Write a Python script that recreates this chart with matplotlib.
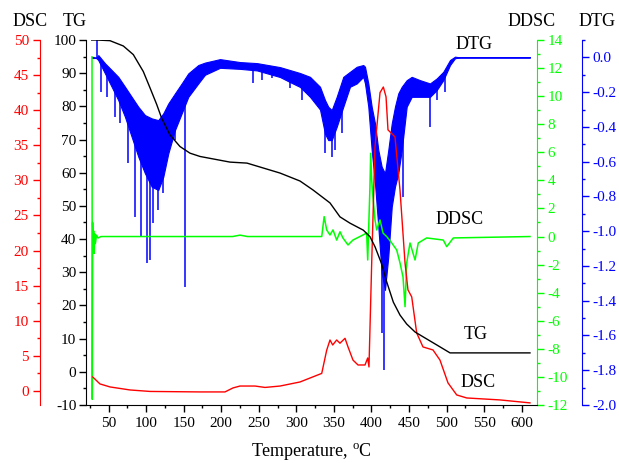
import matplotlib
matplotlib.use('Agg')
import matplotlib.pyplot as plt
import numpy as np
from matplotlib.ticker import MultipleLocator, FormatStrFormatter

plt.rcParams['font.family'] = 'Liberation Serif'
plt.rcParams['mathtext.fontset'] = 'custom'
plt.rcParams['mathtext.rm'] = 'Liberation Serif'
plt.rcParams['axes.unicode_minus'] = False

# TG curve (%)
temp_tg = [27.6, 34.2, 51.9, 69.7, 83.0, 96.3, 105.2, 114.1, 120.8, 131.8, 145.1, 158.4, 171.8,
           211.7, 234.3, 278.3, 304.9, 322.2, 344.8, 358.1, 371.4, 389.1, 398.1, 404.7,
           413.6, 420.3, 429.1, 438.0, 446.9, 458.0, 471.3, 486.9, 504.6, 611.0]
tg = [100.0, 100.0, 99.8, 98.2, 95.6, 90.5, 85.6, 80.6, 76.4, 71.4, 67.9, 65.9, 64.9,
      63.2, 62.9, 59.9, 57.5, 54.8, 50.9, 46.7, 44.8, 42.7, 40.7, 37.7,
      32.5, 27.1, 21.0, 17.1, 14.4, 12.0, 10.2, 8.1, 5.7, 5.7]

# DSC curve
temp_dsc = [28.9, 38.6, 52.0, 78.6, 105.2, 171.8, 205.0, 215.7, 225.0, 245.0, 258.3, 278.3,
            304.9, 333.8, 340.4, 344.8, 348.4, 353.7, 358.1, 364.8, 368.8, 375.4, 382.1,
            391.4, 395.0, 396.7, 400.3, 404.7, 411.4, 415.8, 419.4, 422.0, 431.3, 438.0,
            444.7, 448.6, 453.6, 460.2, 468.6, 481.9, 491.2, 501.9, 513.5, 526.8, 571.1, 611.0]
dsc = [2.0, 1.0, 0.57, 0.14, -0.07, -0.14, -0.14, 0.43, 0.7, 0.7, 0.5, 0.7,
       1.28, 2.5, 5.8, 7.26, 6.55, 7.26, 6.8, 7.5, 6.27, 4.4, 3.7,
       3.7, 4.7, 3.42, 18.2, 34.8, 42.5, 43.3, 41.9, 37.2, 36.2, 28.6,
       18.2, 14.4, 13.4, 8.26, 6.27, 5.84, 4.4, 1.14, -0.57, -1.0, -1.28, -1.7]

# DDSC curve
temp_ddsc = [28.0, 28.4, 28.9, 29.5, 30.2, 31.0, 31.6, 32.5, 34.0, 36.0, 40.0, 215.0, 225.0,
             235.0, 333.8, 337.0, 340.4, 344.8, 348.8, 353.7, 358.1, 362.1, 368.8, 375.4,
             388.7, 393.6, 395.0, 398.0, 399.0, 400.3, 402.0, 404.7, 407.0, 411.4, 415.4,
             420.3, 427.0, 433.6, 438.0, 442.0, 444.7, 446.9, 451.3, 458.0, 462.3, 473.5,
             495.6, 500.2, 509.0, 611.0]
ddsc = [12.8, -11.6, 1.0, -1.0, 0.4, -1.2, 0.2, -0.5, 0.1, -0.1, 0.0, 0.0, 0.1,
        0.0, 0.0, 1.42, 0.47, 0.11, 0.47, -0.25, 0.34, -0.11, -0.6, -0.25,
        0.11, 0.25, -1.67, 3.55, 5.93, 4.03, 2.82, 1.18, 0.47, 1.18, 0.25,
        0.0, -0.46, -0.96, -1.88, -2.88, -5.0, -1.88, -0.46, -1.67, -0.46, -0.1,
        -0.25, -0.72, -0.1, 0.0]

# DTG noisy band: upper / lower edge of the trace
temp_dtg = [27.6, 34.2, 36.4, 45.3, 54.2, 63.0, 71.9, 80.8, 89.6, 98.5, 107.5, 116.2,
            122.9, 129.6, 138.5, 147.4, 156.2, 169.5, 178.4, 198.4, 225.0, 247.6, 278.3,
            291.6, 304.9, 318.2, 331.5, 338.2, 342.5, 347.1, 353.7, 362.5, 371.4, 380.4,
            389.1, 391.4, 395.8, 400.3, 404.7, 409.1, 413.6, 418.0, 422.4, 427.0, 431.3,
            435.7, 440.3, 446.9, 453.6, 464.6, 477.9, 486.9, 495.6, 504.6, 511.2, 517.9, 611.0]
dtg_upper = [0.0, 0.0, 0.013, -0.034, -0.073, -0.112, -0.169, -0.227, -0.284, -0.332, -0.351, -0.361,
             -0.322, -0.265, -0.207, -0.150, -0.092, -0.044, -0.030, -0.010, -0.027, -0.033, -0.056,
             -0.073, -0.090, -0.112, -0.169, -0.246, -0.284, -0.303, -0.227, -0.112, -0.083, -0.054,
             -0.044, -0.054, -0.150, -0.284, -0.380, -0.533, -0.629, -0.667, -0.533, -0.380, -0.284,
             -0.207, -0.169, -0.131, -0.112, -0.131, -0.150, -0.121, -0.083, -0.015, 0.004, 0.0, 0.0]
dtg_lower = [0.0, -0.005, -0.016, -0.092, -0.169, -0.246, -0.342, -0.457, -0.571, -0.667, -0.744, -0.763,
             -0.687, -0.552, -0.418, -0.322, -0.227, -0.150, -0.100, -0.060, -0.066, -0.075, -0.113,
             -0.142, -0.170, -0.227, -0.300, -0.440, -0.476, -0.476, -0.400, -0.284, -0.169, -0.150,
             -0.112, -0.150, -0.284, -0.533, -0.725, -0.974, -1.242, -1.338, -1.147, -0.859, -0.744,
             -0.667, -0.533, -0.284, -0.227, -0.227, -0.227, -0.188, -0.131, -0.044, -0.005, 0.0, 0.0]
# single spikes sticking out of the band
spike_t = [34.2, 40.0, 47.6, 58.6, 65.3, 76.3, 85.2, 93.2, 100.8, 105.2, 109.6, 116.2, 122.9,
           138.5, 151.8, 242.7, 254.3, 267.6, 291.6, 307.5, 320.9, 328.8, 338.2, 347.1, 351.5,
           360.4, 413.6, 417.1, 442.4, 471.3, 477.9, 487.3, 497.9]
spike_dtg = [0.099, -0.20, -0.227, -0.342, -0.380, -0.61, -0.917, -1.032, -1.185, -1.166, -0.955, -0.878,
             -0.782, -0.476, -1.319, -0.150, -0.131, -0.119, -0.177, -0.246, -0.234, -0.263, -0.552,
             -0.571, -0.533, -0.437, -1.586, -1.799, -0.802, -0.228, -0.399, -0.246, -0.20]

RED = '#ff0000'
GREEN = '#00ff00'
BLUE = '#0000ff'

fig = plt.figure(figsize=(6.19, 4.63), dpi=100)
ax = fig.add_axes([0.1389, 0.1253, 0.7282, 0.7883])
ax_dtg = ax.twinx()
ax_ddsc = ax.twinx()
ax_dsc = ax.twinx()

# drawing order: DTG at the back, TG on top
ax_dtg.set_zorder(1)
ax_ddsc.set_zorder(2)
ax_dsc.set_zorder(3)
ax.set_zorder(4)
for a in (ax, ax_dtg, ax_ddsc, ax_dsc):
    a.patch.set_visible(False)

# DTG
ax_dtg.fill_between(temp_dtg, dtg_lower, dtg_upper, color=BLUE, linewidth=0.8)
mid = (np.array(dtg_upper) + np.array(dtg_lower)) / 2
ax_dtg.vlines(spike_t, spike_dtg, np.interp(spike_t, temp_dtg, mid), color=BLUE, linewidth=1.1)
ax_dtg.set_ylim(-2.0, 0.1)

# DDSC
ax_ddsc.plot(temp_ddsc, ddsc, color=GREEN, linewidth=1.1)
ax_ddsc.set_ylim(-12, 14)

# DSC
ax_dsc.plot(temp_dsc, dsc, color=RED, linewidth=1.0)
ax_dsc.set_ylim(-2, 50)

# TG
ax.plot(temp_tg, tg, color='black', linewidth=1.0)
ax.set_xlim(20, 620)
ax.set_ylim(-10, 100)

# spines
ax.spines['top'].set_visible(False)
ax.spines['right'].set_visible(False)
for a in (ax_dtg, ax_ddsc, ax_dsc):
    for s in a.spines.values():
        s.set_visible(False)

ax_dsc.spines['left'].set_visible(True)
ax_dsc.spines['left'].set_position(('axes', -46 / 450.7))
ax_dsc.spines['left'].set_color(RED)
ax_dsc.yaxis.set_ticks_position('left')
ax_dsc.yaxis.set_label_position('left')

ax_ddsc.spines['right'].set_visible(True)
ax_ddsc.spines['right'].set_color(GREEN)

ax_dtg.spines['right'].set_visible(True)
ax_dtg.spines['right'].set_position(('axes', 1 + 45 / 450.7))
ax_dtg.spines['right'].set_color(BLUE)

for a in (ax, ax_dtg, ax_ddsc, ax_dsc):
    a.tick_params(which='major', direction='out', length=5, width=1, labelsize=11)
    a.tick_params(which='minor', direction='out', length=2.5, width=1)

ax.xaxis.set_major_locator(MultipleLocator(50))
ax.xaxis.set_minor_locator(MultipleLocator(25))
ax.yaxis.set_major_locator(MultipleLocator(10))
ax.yaxis.set_minor_locator(MultipleLocator(5))
ax.tick_params(axis='x', pad=4)
ax.tick_params(axis='y', pad=2)

ax_dsc.yaxis.set_major_locator(MultipleLocator(5))
ax_dsc.yaxis.set_minor_locator(MultipleLocator(2.5))
ax_dsc.tick_params(axis='y', which='both', colors=RED, pad=3)

ax_ddsc.yaxis.set_major_locator(MultipleLocator(2))
ax_ddsc.yaxis.set_minor_locator(MultipleLocator(1))
ax_ddsc.tick_params(axis='y', which='both', colors=GREEN, pad=3)

ax_dtg.yaxis.set_major_locator(MultipleLocator(0.2))
ax_dtg.yaxis.set_minor_locator(MultipleLocator(0.1))
ax_dtg.yaxis.set_major_formatter(FormatStrFormatter('%.1f'))
ax_dtg.tick_params(axis='y', which='both', colors=BLUE, pad=3)

# curve labels
ax.text(536, 98.5, 'DTG', ha='center', va='center', fontsize=13)
ax.text(517, 45.8, 'DDSC', ha='center', va='center', fontsize=13)
ax.text(539, 11.1, 'TG', ha='center', va='center', fontsize=13)
ax.text(542, -3.3, 'DSC', ha='center', va='center', fontsize=13)

# axis titles
fig.text(30.5 / 619, 1 - 22 / 463, 'DSC', ha='center', va='center', fontsize=13)
fig.text(74.7 / 619, 1 - 22 / 463, 'TG', ha='center', va='center', fontsize=13)
fig.text(532 / 619, 1 - 22 / 463, 'DDSC', ha='center', va='center', fontsize=13)
fig.text(597.5 / 619, 1 - 22 / 463, 'DTG', ha='center', va='center', fontsize=13)
fig.text(311.5 / 619, 1 - 452 / 463, r'Temperature, $^{\rm o}$C', ha='center', va='center', fontsize=13)

fig.savefig('out.png', dpi=100)
